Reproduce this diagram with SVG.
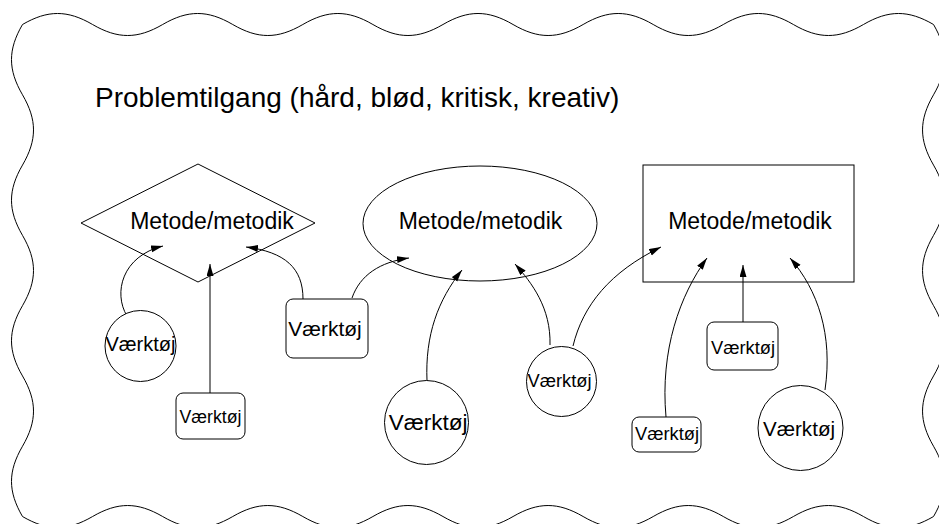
<svg xmlns="http://www.w3.org/2000/svg" width="939" height="524" viewBox="0 0 939 524">
  <defs>
    <marker id="arrow" markerUnits="userSpaceOnUse" markerWidth="13" markerHeight="8" refX="12" refY="3.5" orient="auto">
      <path d="M0,0 L12,3.5 L0,7 z" fill="#000"/>
    </marker>
    <style>
      .shape { fill: #fff; stroke: #000; stroke-width: 1; }
      .edge { fill: none; stroke: #000; stroke-width: 1; marker-end: url(#arrow); }
      .lbl { font-family: "Liberation Sans", Arial, sans-serif; fill: #000; text-anchor: middle; }
      .method { font-size: 23px; }
    </style>
  </defs>

  <rect x="0" y="0" width="939" height="524" fill="#fff"/>

  <!-- wavy frame: problem approach -->
  <g id="frame">
    <path class="shape" d="M22.5,24.5
      c25.23,-14.67 44.85,-14.67 70.08,0 c25.23,14.67 44.85,14.67 70.08,0
      c25.23,-14.67 44.85,-14.67 70.08,0 c25.23,14.67 44.85,14.67 70.08,0
      c25.23,-14.67 44.85,-14.67 70.08,0 c25.23,14.67 44.85,14.67 70.08,0
      c25.23,-14.67 44.85,-14.67 70.08,0 c25.23,14.67 44.85,14.67 70.08,0
      c25.23,-14.67 44.85,-14.67 70.08,0 c25.23,14.67 44.85,14.67 70.08,0
      c25.23,-14.67 44.85,-14.67 70.08,0 c25.23,14.67 44.85,14.67 70.08,0
      c25.23,-14.67 44.85,-14.67 70.08,0
      c14.67,25.3 14.67,44.99 0,70.29 c-14.67,25.3 -14.67,44.99 0,70.29
      c14.67,25.3 14.67,44.99 0,70.29 c-14.67,25.3 -14.67,44.99 0,70.29
      c14.67,25.3 14.67,44.99 0,70.29 c-14.67,25.3 -14.67,44.99 0,70.29
      c14.67,25.3 14.67,44.99 0,70.29
      c-25.23,14.67 -44.85,14.67 -70.08,0 c-25.23,-14.67 -44.85,-14.67 -70.08,0
      c-25.23,14.67 -44.85,14.67 -70.08,0 c-25.23,-14.67 -44.85,-14.67 -70.08,0
      c-25.23,14.67 -44.85,14.67 -70.08,0 c-25.23,-14.67 -44.85,-14.67 -70.08,0
      c-25.23,14.67 -44.85,14.67 -70.08,0 c-25.23,-14.67 -44.85,-14.67 -70.08,0
      c-25.23,14.67 -44.85,14.67 -70.08,0 c-25.23,-14.67 -44.85,-14.67 -70.08,0
      c-25.23,14.67 -44.85,14.67 -70.08,0 c-25.23,-14.67 -44.85,-14.67 -70.08,0
      c-25.23,14.67 -44.85,14.67 -70.08,0
      c-14.67,-25.3 -14.67,-44.99 0,-70.29 c14.67,-25.3 14.67,-44.99 0,-70.29
      c-14.67,-25.3 -14.67,-44.99 0,-70.29 c14.67,-25.3 14.67,-44.99 0,-70.29
      c-14.67,-25.3 -14.67,-44.99 0,-70.29 c14.67,-25.3 14.67,-44.99 0,-70.29
      c-14.67,-25.3 -14.67,-44.99 0,-70.29 Z"/>
    <text x="95" y="107" font-family="Liberation Sans, Arial, sans-serif" font-size="28">Problemtilgang (hård, blød, kritisk, kreativ)</text>
  </g>

  <!-- methods -->
  <g id="method-diamond">
    <polygon class="shape" points="81,223 198,164 315,223 198,282"/>
    <text class="lbl method" x="212" y="229">Metode/metodik</text>
  </g>
  <g id="method-ellipse">
    <ellipse class="shape" cx="480" cy="223.5" rx="117" ry="57.5"/>
    <text class="lbl method" x="480.5" y="229">Metode/metodik</text>
  </g>
  <g id="method-rect">
    <rect class="shape" x="643" y="165" width="211" height="117"/>
    <text class="lbl method" x="750" y="229">Metode/metodik</text>
  </g>

  <!-- connectors -->
  <g id="connectors">
    <path class="edge" d="M127,316 C113,293 122,256 163,246"/>
    <path class="edge" d="M210,393 L210,264"/>
    <path class="edge" d="M303,299 C303,268 285,252 246,247"/>
    <path class="edge" d="M352,298 C360,275 380,262 409,258"/>
    <path class="edge" d="M427,381 C425,335 438,300 462,270"/>
    <path class="edge" d="M550,345 C551,308 532,283 515,264"/>
    <path class="edge" d="M573,346 C583,305 610,272 661,247"/>
    <path class="edge" d="M666,417 C660,350 680,295 707,258"/>
    <path class="edge" d="M743,322 L743,265"/>
    <path class="edge" d="M825,390 C833,335 818,290 790,258"/>
  </g>

  <!-- tools -->
  <g id="tool-1">
    <circle class="shape" cx="140.5" cy="346" r="35.5"/>
    <text class="lbl" x="140.5" y="351" font-size="20">Værktøj</text>
  </g>
  <g id="tool-2">
    <rect class="shape" x="176" y="393" width="69" height="46" rx="7"/>
    <text class="lbl" x="210.5" y="423" font-size="17.7">Værktøj</text>
  </g>
  <g id="tool-3">
    <rect class="shape" x="286" y="299" width="82" height="59" rx="7"/>
    <text class="lbl" x="325" y="336" font-size="21">Værktøj</text>
  </g>
  <g id="tool-4">
    <circle class="shape" cx="426.5" cy="422.5" r="42"/>
    <text class="lbl" x="428" y="430" font-size="22.5">Værktøj</text>
  </g>
  <g id="tool-5">
    <circle class="shape" cx="561.5" cy="381.5" r="35"/>
    <text class="lbl" x="559.5" y="387" font-size="18.3">Værktøj</text>
  </g>
  <g id="tool-6">
    <rect class="shape" x="707" y="322" width="71" height="48" rx="7"/>
    <text class="lbl" x="743" y="354" font-size="18.3">Værktøj</text>
  </g>
  <g id="tool-7">
    <rect class="shape" x="632" y="417" width="69" height="35" rx="7"/>
    <text class="lbl" x="667" y="440" font-size="18.3">Værktøj</text>
  </g>
  <g id="tool-8">
    <circle class="shape" cx="800.5" cy="428" r="42.5"/>
    <text class="lbl" x="799" y="436" font-size="20.6">Værktøj</text>
  </g>
</svg>
